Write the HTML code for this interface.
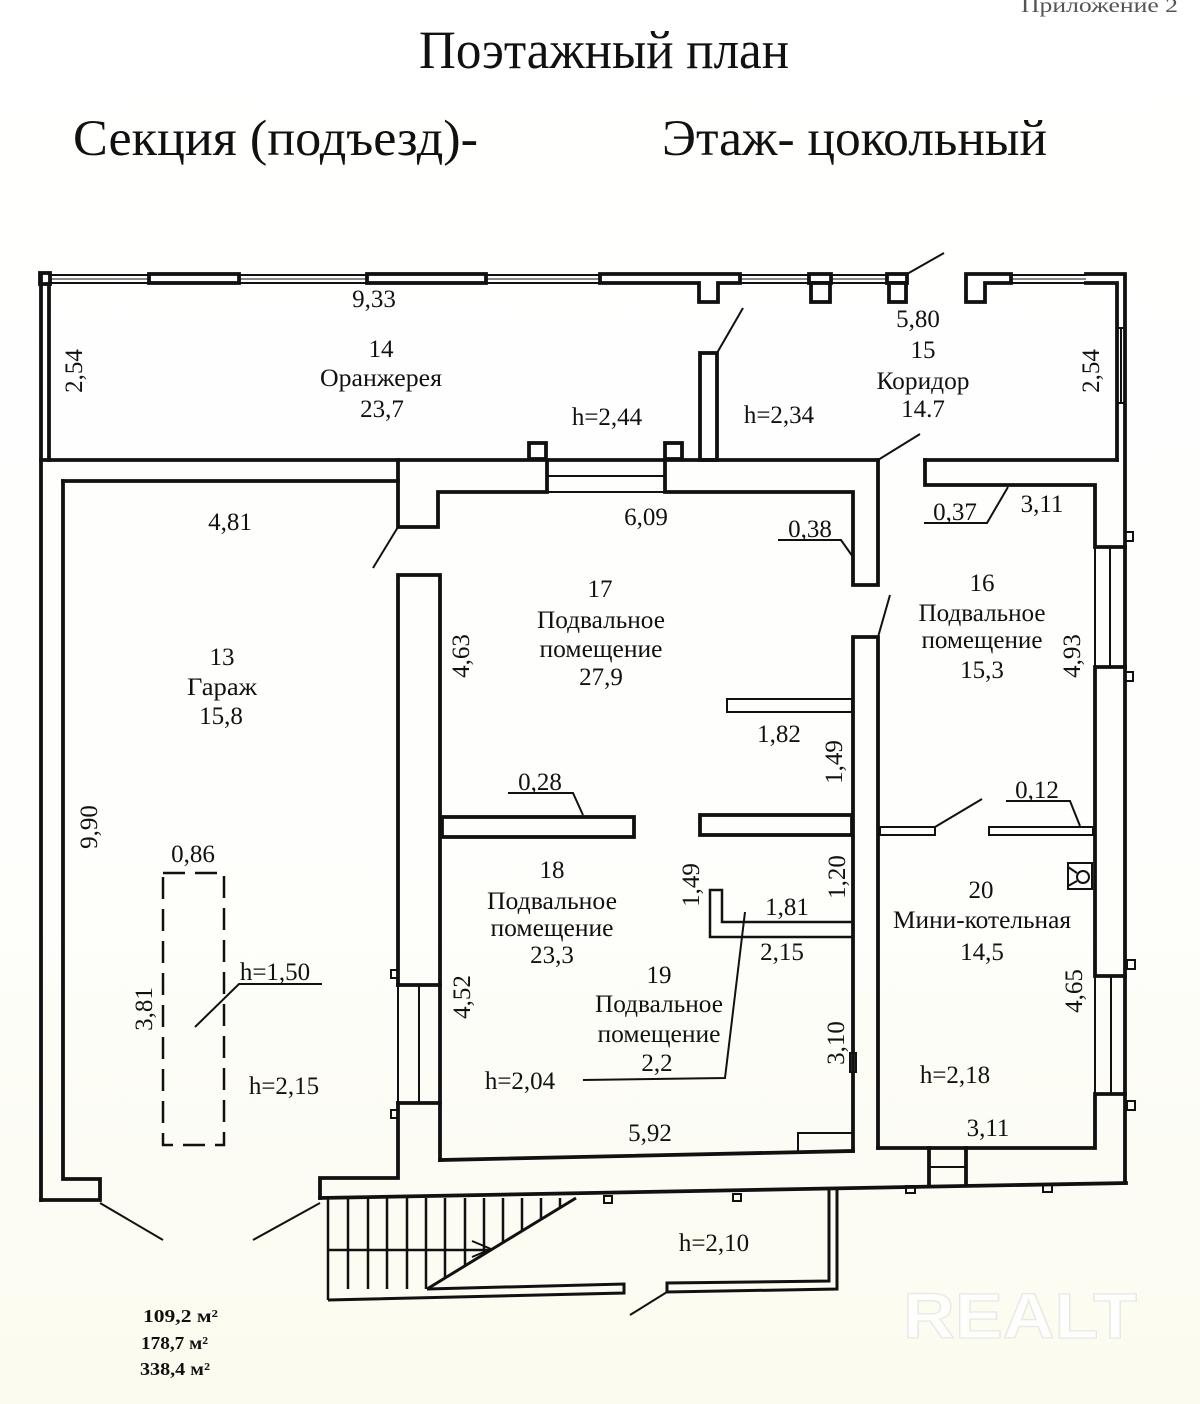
<!DOCTYPE html>
<html><head><meta charset="utf-8">
<style>
html,body{margin:0;padding:0;background:#fff;}
svg{display:block}
text{font-family:"Liberation Serif","DejaVu Serif",serif;fill:#111}
</style></head><body>
<svg width="1200" height="1404" viewBox="0 0 1200 1404" xmlns="http://www.w3.org/2000/svg">
<defs><linearGradient id="bg" x1="0" y1="0" x2="0" y2="1"><stop offset="0" stop-color="#ffffff"/><stop offset="0.6" stop-color="#fefefc"/><stop offset="1" stop-color="#fbfbef"/></linearGradient></defs>
<rect width="1200" height="1404" fill="url(#bg)"/>

<!-- Header -->
<text x="1178" y="12" font-size="20" text-anchor="end" style="fill:#555" textLength="157" lengthAdjust="spacingAndGlyphs">Приложение 2</text>
<text x="419" y="68" font-size="54" textLength="370" lengthAdjust="spacingAndGlyphs">Поэтажный план</text>
<text x="73" y="155" font-size="51" textLength="405" lengthAdjust="spacingAndGlyphs">Секция (подъезд)-</text>
<text x="662" y="155" font-size="51" textLength="385" lengthAdjust="spacingAndGlyphs">Этаж- цокольный</text>

<!-- Thin glazing lines (top wall) -->
<g stroke="#111" fill="none">
  <g stroke-width="2">
    <line x1="50" y1="275" x2="600" y2="275"/>
    <line x1="50" y1="283" x2="600" y2="283"/>
    <line x1="740" y1="275" x2="809" y2="275"/>
    <line x1="740" y1="283" x2="809" y2="283"/>
    <line x1="831" y1="275" x2="887" y2="275"/>
    <line x1="831" y1="283" x2="887" y2="283"/>
    <line x1="1011" y1="275" x2="1086" y2="275"/>
    <line x1="1011" y1="283" x2="1086" y2="283"/>
  </g>
  <g stroke-width="1">
    <line x1="50" y1="279" x2="600" y2="279"/>
    <line x1="740" y1="279" x2="809" y2="279"/>
    <line x1="831" y1="279" x2="887" y2="279"/>
    <line x1="1011" y1="279" x2="1086" y2="279"/>
  </g>
</g>

<!-- Walls -->
<g fill="#fff" stroke="#111" stroke-width="3.8" stroke-linejoin="miter">
  <rect x="40" y="273" width="10" height="11"/>
  <rect x="149" y="274" width="90" height="9"/>
  <rect x="367" y="274" width="119" height="9"/>
  <polygon points="600,274 740,274 740,283 718,283 718,302 699,302 699,283 600,283"/>
  <rect x="809" y="274" width="22" height="9"/>
  <rect x="811" y="283" width="19" height="19"/>
  <rect x="887" y="274" width="20" height="9"/>
  <rect x="889" y="283" width="17" height="19"/>
  <polygon points="966,274 1011,274 1011,283 985,283 985,302 966,302"/>
  <rect x="700" y="353" width="17" height="107"/>
  <rect x="529" y="443" width="17" height="16"/>
  <rect x="665" y="443" width="17" height="16"/>
</g>

<g fill="none" stroke="#111" stroke-width="3.8" stroke-linejoin="miter" stroke-linecap="square">
  <line x1="41" y1="274" x2="41" y2="1200"/>
  <line x1="49" y1="284" x2="49" y2="460"/>
  <polyline points="1086,274 1125,274 1125,1183"/>
  <polyline points="1086,283 1117,283 1117,460"/>
  <line x1="41" y1="460" x2="878" y2="460"/>
  <line x1="925" y1="460" x2="1117" y2="460"/>
  <polyline points="925,460 925,485 1095,485 1095,547 1125,547"/>
  <polyline points="1125,667 1095,667 1095,976 1125,976"/>
  <polyline points="1125,1094 1095,1094 1095,1148 878,1148"/>
  <polyline points="878,460 878,585 853,585 853,492 665,492 665,460"/>
  <polyline points="547,460 547,492 438,492 438,527 398,527 398,460"/>
  <line x1="63" y1="481" x2="398" y2="481"/>
  <polyline points="63,481 63,1179 100,1179 100,1200 41,1200"/>
  <polyline points="398,985 398,575 440,575 440,1160"/>
  <line x1="398" y1="985" x2="440" y2="985"/>
  <line x1="398" y1="1103" x2="440" y2="1103"/>
  <polyline points="398,1103 398,1178 320,1178 320,1198"/>
  <line x1="440" y1="1160" x2="853" y2="1151"/>
  <line x1="320" y1="1198" x2="1126" y2="1183"/>
  <polyline points="853,1151 853,637 878,637 878,1148"/>
  <line x1="929" y1="1148" x2="929" y2="1184"/>
  <line x1="966" y1="1148" x2="966" y2="1184"/>
  <rect x="442" y="817" width="192" height="20"/>
  <rect x="700" y="815" width="152" height="20"/>
</g>

<!-- thin lines, windows, partitions -->
<g fill="none" stroke="#111" stroke-width="2">
  <line x1="1117" y1="328" x2="1125" y2="328"/>
  <line x1="1117" y1="403" x2="1125" y2="403"/>
  <line x1="1121" y1="328" x2="1121" y2="403"/>
  <line x1="547" y1="476" x2="665" y2="476"/>
  <line x1="547" y1="492" x2="665" y2="492"/>
  <line x1="1095" y1="547" x2="1095" y2="667"/>
  <line x1="1110" y1="547" x2="1110" y2="667"/>
  <line x1="1095" y1="976" x2="1095" y2="1094"/>
  <line x1="1111" y1="976" x2="1111" y2="1094"/>
  <line x1="398" y1="985" x2="398" y2="1103"/>
  <line x1="419" y1="985" x2="419" y2="1103"/>
  <line x1="929" y1="1167" x2="966" y2="1167"/>
  <rect x="727" y="699" width="125" height="13"/>
  <rect x="880" y="827" width="55" height="8"/>
  <rect x="989" y="827" width="104" height="8"/>
  <polyline points="853,922 722,922 722,890 710,890 710,937 853,937" stroke-width="2.5"/>
  <polyline points="798,1151 798,1133 853,1133"/>
  <rect x="850" y="1053" width="6" height="19"/>
  <rect x="1068" y="863" width="24" height="26"/>
  <circle cx="1083" cy="877" r="6"/>
  <line x1="1068" y1="867" x2="1077" y2="873"/>
  <line x1="1068" y1="886" x2="1077" y2="881"/>
  <rect x="391" y="970" width="7" height="8"/>
  <rect x="391" y="1110" width="7" height="8"/>
  <rect x="1125" y="532" width="8" height="9"/>
  <rect x="1125" y="672" width="8" height="9"/>
  <rect x="1127" y="960" width="8" height="9"/>
  <rect x="1127" y="1101" width="8" height="9"/>
  <rect x="604" y="1196" width="8" height="7"/>
  <rect x="733" y="1194" width="8" height="7"/>
  <rect x="906" y="1186" width="9" height="7"/>
  <rect x="1043" y="1185" width="9" height="7"/>
  <line x1="717" y1="353" x2="743" y2="308"/>
  <line x1="878" y1="460" x2="920" y2="434"/>
  <line x1="398" y1="527" x2="373" y2="568"/>
  <line x1="878" y1="637" x2="890" y2="595"/>
  <line x1="907" y1="274" x2="944" y2="253"/>
  <line x1="935" y1="827" x2="982" y2="799"/>
  <line x1="100" y1="1203" x2="163" y2="1240"/>
  <line x1="320" y1="1203" x2="253" y2="1240"/>
  <line x1="667" y1="1292" x2="630" y2="1315"/>
  <polyline points="508,793 573,793 583,815"/>
  <polyline points="778,540 841,540 853,557"/>
  <polyline points="924,523 987,523 1008,487"/>
  <polyline points="1006,801 1070,801 1080,826"/>
  <polyline points="195,1027 239,984 322,984"/>
  <polyline points="745,912 725,1078 583,1080"/>
  <rect x="163" y="873" width="61" height="272" stroke-width="2.5" stroke-dasharray="22 10"/>
</g>

<!-- Stairs -->
<g fill="none" stroke="#111" stroke-width="2.5">
  <line x1="328" y1="1198" x2="328" y2="1300"/>
  <line x1="348" y1="1198" x2="348" y2="1289"/>
  <line x1="368" y1="1198" x2="368" y2="1289"/>
  <line x1="387" y1="1198" x2="387" y2="1289"/>
  <line x1="407" y1="1198" x2="407" y2="1289"/>
  <line x1="426" y1="1198" x2="426" y2="1289"/>
  <line x1="445" y1="1198" x2="445" y2="1278"/>
  <line x1="465" y1="1198" x2="465" y2="1266"/>
  <line x1="484" y1="1198" x2="484" y2="1254"/>
  <line x1="503" y1="1198" x2="503" y2="1243"/>
  <line x1="522" y1="1198" x2="522" y2="1231"/>
  <line x1="541" y1="1198" x2="541" y2="1219"/>
  <line x1="560" y1="1198" x2="560" y2="1208"/>
  <line x1="576" y1="1198" x2="427" y2="1289" stroke-width="3"/>
  <line x1="328" y1="1250" x2="491" y2="1250"/>
  <polyline points="472,1241 491,1249 472,1257" stroke-width="2"/>
  <polyline points="427,1289 624,1284 624,1293 328,1300" stroke-width="3"/>
  <polyline points="829,1188 829,1281 667,1283 667,1292 837,1289 837,1188" stroke-width="3"/>
</g>

<!-- Labels -->
<g font-size="25" text-anchor="middle">
  <text x="374" y="307">9,33</text>
  <text x="381" y="357">14</text>
  <text x="381" y="386" textLength="122" lengthAdjust="spacingAndGlyphs">Оранжерея</text>
  <text x="382" y="417">23,7</text>
  <text x="607" y="425">h=2,44</text>
  <text x="779" y="423">h=2,34</text>
  <text x="918" y="327">5,80</text>
  <text x="923" y="358">15</text>
  <text x="923" y="389" textLength="93" lengthAdjust="spacingAndGlyphs">Коридор</text>
  <text x="923" y="417">14.7</text>
  <text x="230" y="530">4,81</text>
  <text x="646" y="525">6,09</text>
  <text x="810" y="537">0,38</text>
  <text x="955" y="520">0,37</text>
  <text x="1042" y="512">3,11</text>
  <text x="600" y="597">17</text>
  <text x="601" y="628" textLength="128" lengthAdjust="spacingAndGlyphs">Подвальное</text>
  <text x="601" y="657" textLength="123" lengthAdjust="spacingAndGlyphs">помещение</text>
  <text x="601" y="685">27,9</text>
  <text x="222" y="665">13</text>
  <text x="222" y="695" textLength="70" lengthAdjust="spacingAndGlyphs">Гараж</text>
  <text x="221" y="724">15,8</text>
  <text x="982" y="591">16</text>
  <text x="982" y="621" textLength="127" lengthAdjust="spacingAndGlyphs">Подвальное</text>
  <text x="982" y="648" textLength="121" lengthAdjust="spacingAndGlyphs">помещение</text>
  <text x="982" y="678">15,3</text>
  <text x="779" y="742">1,82</text>
  <text x="540" y="790">0,28</text>
  <text x="1037" y="798">0,12</text>
  <text x="193" y="862">0,86</text>
  <text x="552" y="878">18</text>
  <text x="552" y="909" textLength="130" lengthAdjust="spacingAndGlyphs">Подвальное</text>
  <text x="552" y="936" textLength="123" lengthAdjust="spacingAndGlyphs">помещение</text>
  <text x="552" y="963">23,3</text>
  <text x="787" y="915">1,81</text>
  <text x="782" y="960">2,15</text>
  <text x="981" y="898">20</text>
  <text x="982" y="928" textLength="178" lengthAdjust="spacingAndGlyphs">Мини-котельная</text>
  <text x="982" y="960">14,5</text>
  <text x="659" y="983">19</text>
  <text x="659" y="1012" textLength="128" lengthAdjust="spacingAndGlyphs">Подвальное</text>
  <text x="659" y="1042" textLength="123" lengthAdjust="spacingAndGlyphs">помещение</text>
  <text x="657" y="1071">2,2</text>
  <text x="275" y="980">h=1,50</text>
  <text x="520" y="1089">h=2,04</text>
  <text x="955" y="1083">h=2,18</text>
  <text x="284" y="1094">h=2,15</text>
  <text x="650" y="1141">5,92</text>
  <text x="988" y="1136">3,11</text>
  <text x="714" y="1251">h=2,10</text>
</g>

<!-- Vertical labels -->
<g font-size="25" text-anchor="middle">
  <text x="73" y="371" dy="0.35em" transform="rotate(-90 73 371)">2,54</text>
  <text x="1090" y="371" dy="0.35em" transform="rotate(-90 1090 371)">2,54</text>
  <text x="460" y="656" dy="0.35em" transform="rotate(-90 460 656)">4,63</text>
  <text x="1071" y="656" dy="0.35em" transform="rotate(-90 1071 656)">4,93</text>
  <text x="833" y="762" dy="0.35em" transform="rotate(-90 833 762)">1,49</text>
  <text x="88" y="827" dy="0.35em" transform="rotate(-90 88 827)">9,90</text>
  <text x="690" y="885" dy="0.35em" transform="rotate(-90 690 885)">1,49</text>
  <text x="836" y="877" dy="0.35em" transform="rotate(-90 836 877)">1,20</text>
  <text x="143" y="1009" dy="0.35em" transform="rotate(-90 143 1009)">3,81</text>
  <text x="461" y="997" dy="0.35em" transform="rotate(-90 461 997)">4,52</text>
  <text x="1073" y="991" dy="0.35em" transform="rotate(-90 1073 991)">4,65</text>
  <text x="835" y="1043" dy="0.35em" transform="rotate(-90 835 1043)">3,10</text>
</g>

<!-- Area totals -->
<g font-size="18" font-weight="bold">
  <text x="143" y="1322" textLength="75" lengthAdjust="spacingAndGlyphs">109,2  м²</text>
  <text x="141" y="1349" textLength="67" lengthAdjust="spacingAndGlyphs">178,7 м²</text>
  <text x="140" y="1375" textLength="70" lengthAdjust="spacingAndGlyphs">338,4 м²</text>
</g>

<!-- Watermark -->
<text x="903" y="1338" font-size="64" textLength="234" lengthAdjust="spacingAndGlyphs" style="font-family:'Liberation Sans','DejaVu Sans',sans-serif;font-weight:bold;fill:#fefefc;stroke:#e8e8e6;stroke-width:1.3">REALT</text>
</svg>
</body></html>
